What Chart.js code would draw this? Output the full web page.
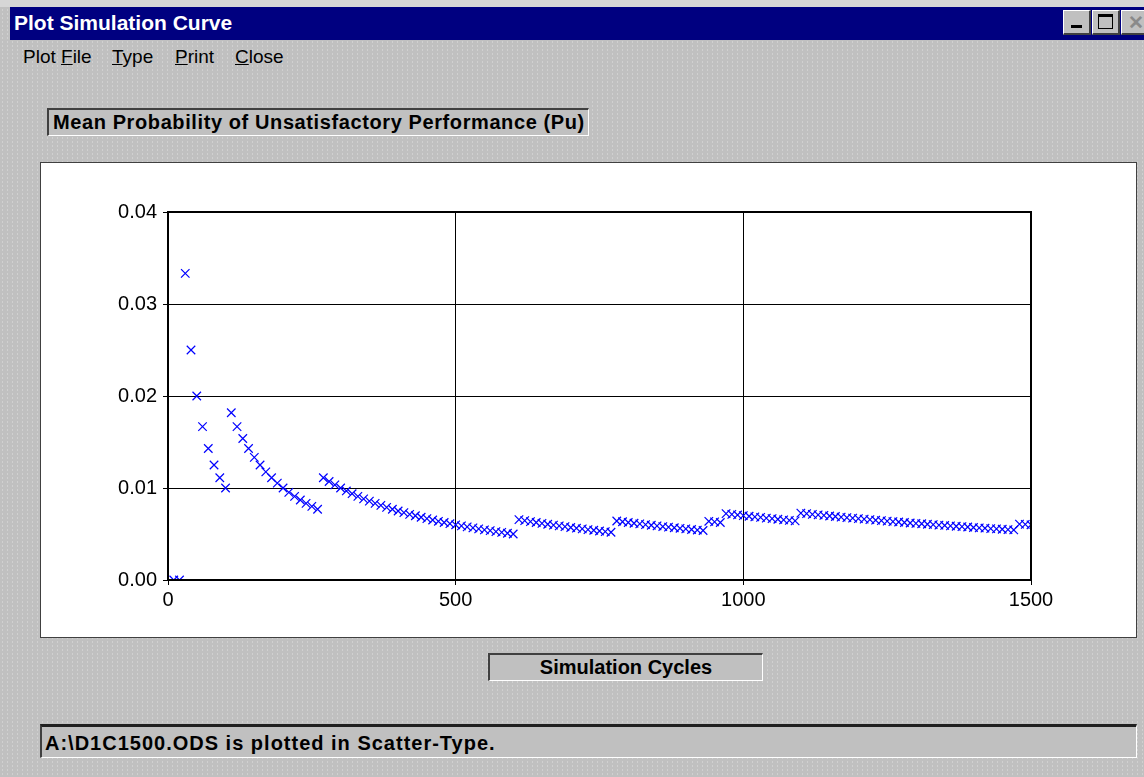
<!DOCTYPE html>
<html>
<head>
<meta charset="utf-8">
<script src="https://cdn.jsdelivr.net/npm/chart.js@4.4.1/dist/chart.umd.min.js"></script>
<style>
  html, body { margin:0; padding:0; }
  body { width:1144px; height:777px; background-color:#c0c0c0; background-image:radial-gradient(#d0d0d0 0.7px, transparent 0.8px); background-size:5px 4px; position:relative; overflow:hidden; font-family:"Liberation Sans", Arial, sans-serif; }
  .topstrip { position:absolute; left:0; top:0; width:1144px; height:7px; background:#d6d6d6; }
  .titlebar { position:absolute; left:10px; top:7px; width:1134px; height:33px; background:#000080; }
  .titlebar span { position:absolute; left:4px; top:4px; color:#fff; font-weight:bold; font-size:21px; }
  .btn { position:absolute; top:3px; width:28px; height:25px; background:#c0c0c0; border-top:1px solid #fff; border-left:1px solid #fff; border-right:2px solid #404040; border-bottom:2px solid #404040; box-sizing:border-box; }
  .menu span { position:absolute; top:46px; font-size:19px; color:#000; }
  .box { position:absolute; box-sizing:border-box; border-top:2px solid #404040; border-left:2px solid #404040; border-right:1px solid #fff; border-bottom:1px solid #fff; background:#c0c0c0; font-weight:bold; color:#000; white-space:nowrap; }
  #panel { position:absolute; left:40px; top:162px; width:1097px; height:476px; background:#fff; border:1px solid #404040; box-sizing:border-box; }
  canvas { position:absolute; left:0; top:0; }
</style>
</head>
<body>
<div class="topstrip"></div>
<div class="titlebar"><span>Plot Simulation Curve</span>
  <div class="btn" style="left:1053px;"><div style="position:absolute;left:7px;top:14px;width:11px;height:3px;background:#000;"></div></div>
  <div class="btn" style="left:1082px;"><div style="position:absolute;left:5px;top:3px;width:15px;height:15px;border:1px solid #000;border-top-width:3px;box-sizing:border-box;"></div></div>
  <div class="btn" style="left:1111px;"><div style="position:absolute;left:6px;top:0px;font-size:19px;color:#8a8a8a;font-weight:bold;">✕</div></div>
</div>
<div class="menu">
  <span style="left:23px;">Plot <u>F</u>ile</span>
  <span style="left:112px;"><u>T</u>ype</span>
  <span style="left:175px;"><u>P</u>rint</span>
  <span style="left:235px;"><u>C</u>lose</span>
</div>
<div class="box" style="left:47px;top:108px;width:542px;height:28px;font-size:20px;letter-spacing:0.6px;padding:1px 0 0 4px;">Mean Probability of Unsatisfactory Performance (Pu)</div>
<div id="panel"><canvas id="c" width="1095" height="474"></canvas></div>
<div class="box" style="left:488px;top:653px;width:275px;height:28px;font-size:20px;text-align:center;padding-top:1px;">Simulation Cycles</div>
<div class="box" style="left:40px;top:724px;width:1097px;height:34px;font-size:20px;letter-spacing:1px;padding:5px 0 0 3px;border-top:3px solid #202020;">A:\D1C1500.ODS is plotted in Scatter-Type.</div>

<script>
const cycles = [10,20,30,40,50,60,70,80,90,100,110,120,130,140,150,160,170,180,190,200,
210,220,230,240,250,260,270,280,290,300,310,320,330,340,350,360,370,380,390,400,
410,420,430,440,450,460,470,480,490,500,510,520,530,540,550,560,570,580,590,600,
610,620,630,640,650,660,670,680,690,700,710,720,730,740,750,760,770,780,790,800,
810,820,830,840,850,860,870,880,890,900,910,920,930,940,950,960,970,980,990,1000,
1010,1020,1030,1040,1050,1060,1070,1080,1090,1100,1110,1120,1130,1140,1150,1160,1170,1180,1190,1200,
1210,1220,1230,1240,1250,1260,1270,1280,1290,1300,1310,1320,1330,1340,1350,1360,1370,1380,1390,1400,
1410,1420,1430,1440,1450,1460,1470,1480,1490,1500];
const meanPu = [0,0,0.03333,0.025,0.02,0.01667,0.01429,0.0125,0.01111,0.01,
0.01818,0.01667,0.01538,0.01429,0.01333,0.0125,0.01176,0.01111,0.01053,0.01,
0.00952,0.00909,0.0087,0.00833,0.008,0.00769,0.01111,0.01071,0.01034,0.01,
0.00968,0.00938,0.00909,0.00882,0.00857,0.00833,0.00811,0.00789,0.00769,0.0075,
0.00732,0.00714,0.00698,0.00682,0.00667,0.00652,0.00638,0.00625,0.00612,0.006,
0.00588,0.00577,0.00566,0.00556,0.00545,0.00536,0.00526,0.00517,0.00508,0.005,
0.00656,0.00645,0.00635,0.00625,0.00615,0.00606,0.00597,0.00588,0.0058,0.00571,
0.00563,0.00556,0.00548,0.00541,0.00533,0.00526,0.00519,0.00641,0.00633,0.00625,
0.00617,0.0061,0.00602,0.00595,0.00588,0.00581,0.00575,0.00568,0.00562,0.00556,
0.00549,0.00543,0.00538,0.00638,0.00632,0.00625,0.00722,0.00714,0.00707,0.007,
0.00693,0.00686,0.0068,0.00673,0.00667,0.0066,0.00654,0.00648,0.00642,0.00727,
0.00721,0.00714,0.00708,0.00702,0.00696,0.0069,0.00684,0.00678,0.00672,0.00667,
0.00661,0.00656,0.0065,0.00645,0.0064,0.00635,0.0063,0.00625,0.0062,0.00615,
0.00611,0.00606,0.00602,0.00597,0.00593,0.00588,0.00584,0.0058,0.00576,0.00571,
0.00567,0.00563,0.00559,0.00556,0.00552,0.00548,0.00544,0.00608,0.00604,0.006];
const xTicks = [0,500,1000,1500];
const yTicks = [0,0.01,0.02,0.03,0.04];

const points = cycles.map((c,i)=>({x:c,y:meanPu[i]}));
const tickFont = {family:"'Liberation Sans', Arial, sans-serif", size:20};

new Chart(document.getElementById('c'), {
  type:'scatter',
  data:{datasets:[{data:points, pointStyle:'crossRot', radius:6, borderColor:'#0000ff', backgroundColor:'#0000ff', borderWidth:1.2, showLine:false}]},
  options:{
    responsive:false, animation:false,
    layout:{padding:{left:0, top:49, right:105, bottom:0}},
    plugins:{legend:{display:false}, tooltip:{enabled:false}},
    scales:{
      x:{type:'linear', min:0, max:1500,
        afterBuildTicks:s=>{s.ticks = xTicks.map(v=>({value:v}));},
        afterFit:s=>{s.height = 57;},
        ticks:{color:'#000', font:tickFont, padding:3, callback:v=>String(v)},
        grid:{color:'#000', lineWidth:1, tickLength:5, drawTicks:true},
        border:{color:'#000', width:2}},
      y:{type:'linear', min:0, max:0.04,
        afterBuildTicks:s=>{s.ticks = yTicks.map(v=>({value:v}));},
        afterFit:s=>{s.width = 127;},
        ticks:{color:'#000', font:tickFont, padding:6, callback:v=>Number(v).toFixed(2)},
        grid:{color:'#000', lineWidth:1, tickLength:5, drawTicks:true},
        border:{color:'#000', width:2}}
    }
  },
  plugins:[{id:'frame', afterDraw(chart){const a=chart.chartArea, ctx=chart.ctx; ctx.save(); ctx.strokeStyle='#000'; ctx.lineWidth=2; ctx.strokeRect(Math.round(a.left), Math.round(a.top), Math.round(a.right-a.left), Math.round(a.bottom-a.top)); ctx.restore();}}]
});
</script>
</body>
</html>
